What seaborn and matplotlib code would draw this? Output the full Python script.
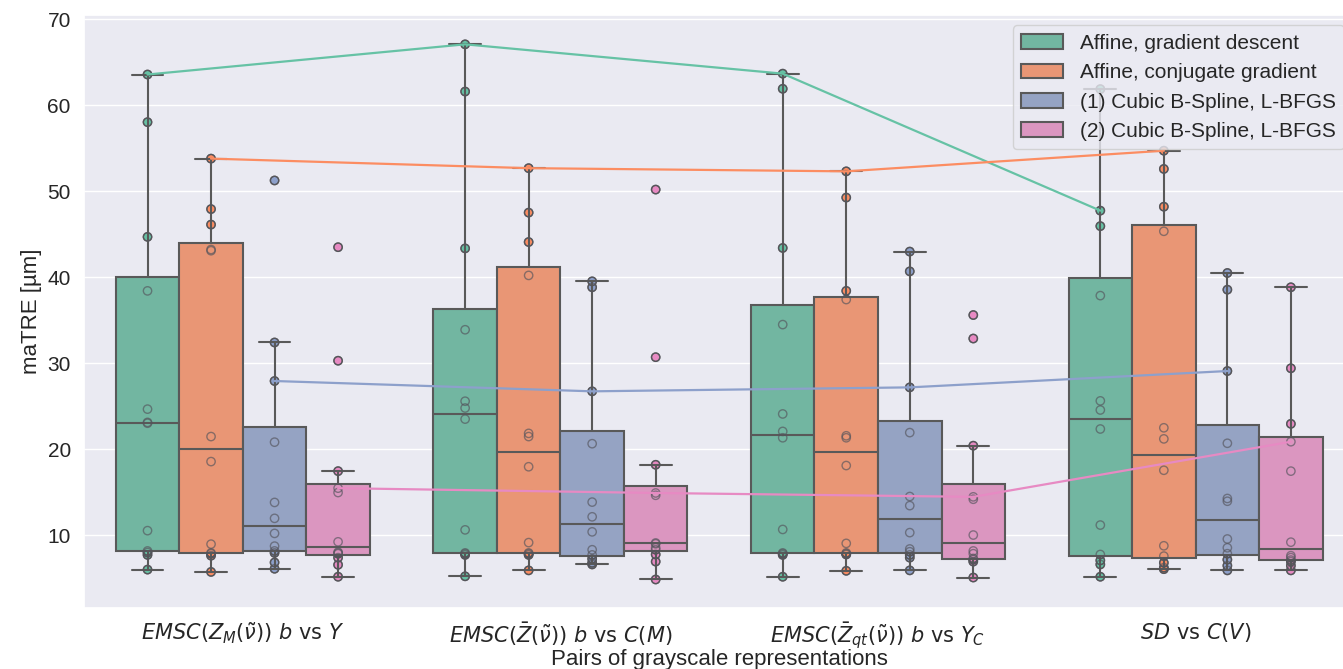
import matplotlib
matplotlib.use("Agg")
import matplotlib.pyplot as plt
import pandas as pd
import seaborn as sns

# grayscale representation pairs (x categories)
pairs = [
    r"$EMSC(Z_M(\tilde{\nu}))\ b\ \mathrm{vs}\ Y$",
    r"$EMSC(\bar{Z}(\tilde{\nu}))\ b\ \mathrm{vs}\ C(M)$",
    r"$EMSC(\bar{Z}_{qt}(\tilde{\nu}))\ b\ \mathrm{vs}\ Y_C$",
    r"$SD\ \mathrm{vs}\ C(V)$",
]

methods = [
    "Affine, gradient descent",
    "Affine, conjugate gradient",
    "(1) Cubic B-Spline, L-BFGS",
    "(2) Cubic B-Spline, L-BFGS",
]

# maTRE per image, one list per pair
affine_gd = [
    [5.98, 7.69, 7.97, 8.15, 10.51, 23.0, 23.1, 24.64, 38.39, 44.67, 58.01, 63.55],
    [5.20, 7.69, 7.83, 7.92, 10.60, 23.48, 24.77, 25.56, 33.87, 43.33, 61.57, 67.06],
    [5.15, 7.69, 7.83, 7.92, 10.65, 21.31, 22.05, 24.08, 34.47, 43.38, 61.89, 63.65],
    [5.15, 6.58, 7.05, 7.74, 11.16, 22.33, 24.54, 25.60, 37.84, 45.92, 47.72, 61.85],
]
affine_cg = [
    [5.71, 7.60, 7.83, 7.92, 8.94, 18.54, 21.45, 43.06, 43.20, 46.10, 47.90, 53.77],
    [5.89, 7.69, 7.83, 7.92, 9.12, 17.94, 21.45, 21.82, 40.19, 44.07, 47.49, 52.66],
    [5.84, 7.74, 7.83, 7.92, 9.03, 18.08, 21.31, 21.54, 37.38, 38.39, 49.24, 52.29],
    [6.03, 6.21, 6.77, 7.55, 8.75, 17.53, 21.18, 22.47, 45.32, 48.18, 52.57, 54.69],
]
bspline_1 = [
    [6.08, 6.81, 7.92, 8.15, 8.71, 10.19, 11.94, 13.79, 20.80, 27.91, 32.39, 51.23],
    [6.58, 6.77, 7.23, 7.69, 8.29, 10.37, 12.12, 13.83, 20.62, 26.71, 38.81, 39.50],
    [5.89, 7.37, 7.69, 8.06, 8.38, 10.28, 13.42, 14.48, 21.91, 27.17, 40.66, 42.96],
    [5.89, 6.44, 7.14, 7.83, 8.52, 9.54, 13.93, 14.25, 20.67, 29.07, 38.53, 40.47],
]
bspline_2 = [
    [5.15, 6.54, 7.37, 7.83, 7.92, 8.01, 9.21, 14.94, 15.45, 17.43, 30.27, 43.47],
    [4.83, 6.91, 7.74, 8.29, 8.52, 8.98, 9.08, 14.62, 14.89, 18.17, 30.68, 50.17],
    [5.06, 6.91, 7.14, 7.28, 7.83, 8.15, 10.00, 14.16, 14.44, 20.39, 32.85, 35.58],
    [5.89, 6.44, 6.91, 7.09, 7.37, 7.60, 9.17, 17.43, 20.85, 22.93, 29.39, 38.81],
]

# values joined by the lines across pairs
line_gd = [63.55, 67.06, 63.65, 47.72]
line_cg = [53.77, 52.66, 52.29, 54.69]
line_b1 = [27.91, 26.71, 27.17, 29.07]
line_b2 = [15.45, 14.89, 14.44, 20.85]

rows = []
for method, per_pair in zip(methods, [affine_gd, affine_cg, bspline_1, bspline_2]):
    for pair, vals in zip(pairs, per_pair):
        for v in vals:
            rows.append({"pair": pair, "method": method, "maTRE": v})
df = pd.DataFrame(rows)

line_rows = []
for method, vals in zip(methods, [line_gd, line_cg, line_b1, line_b2]):
    for pair, v in zip(pairs, vals):
        line_rows.append({"pair": pair, "method": method, "maTRE": v})
df_lines = pd.DataFrame(line_rows)

sns.set_theme(style="darkgrid")
plt.rcParams["font.family"] = ["Liberation Sans", "DejaVu Sans"]

palette = sns.color_palette("Set2", 4)

fig = plt.figure(figsize=(13.43, 6.69), dpi=100)
ax = fig.add_axes([84 / 1343, 61.3 / 669, 1270.4 / 1343, 592.7 / 669])

strip_kw = dict(data=df, x="pair", y="maTRE", hue="method", order=pairs,
                hue_order=methods, palette=palette, dodge=True, jitter=False,
                size=6, linewidth=1, edgecolor="0.35", legend=False, ax=ax)

# filled points, hidden by the boxes
sns.stripplot(zorder=1.5, **strip_kw)

sns.boxplot(data=df, x="pair", y="maTRE", hue="method", order=pairs,
            hue_order=methods, palette=palette, width=0.8, linewidth=1.5,
            linecolor="0.35", showfliers=False, ax=ax)

# outlines of the same points drawn over the boxes
n_before = len(ax.collections)
sns.stripplot(**strip_kw)
for coll in ax.collections[n_before:]:
    coll.set_facecolor("none")
    coll.set_edgecolor((0.33, 0.33, 0.36, 0.65))
    coll.set_zorder(2.5)

sns.pointplot(data=df_lines, x="pair", y="maTRE", hue="method", order=pairs,
              hue_order=methods, palette=palette, dodge=0.6, markers="",
              errorbar=None, legend=False, linewidth=1.6, zorder=3, ax=ax)

ax.set_xlim(-0.5, 3.5)
ax.set_ylim(1.55, 70.47)
ax.set_xlabel("Pairs of grayscale representations", fontsize=16, labelpad=-2)
ax.set_ylabel("maTRE [µm]", fontsize=16)
ax.tick_params(axis="both", labelsize=15)

sns.move_legend(ax, "upper right", title=None, fontsize=15, frameon=True)

fig.savefig("out.png", dpi=100)
